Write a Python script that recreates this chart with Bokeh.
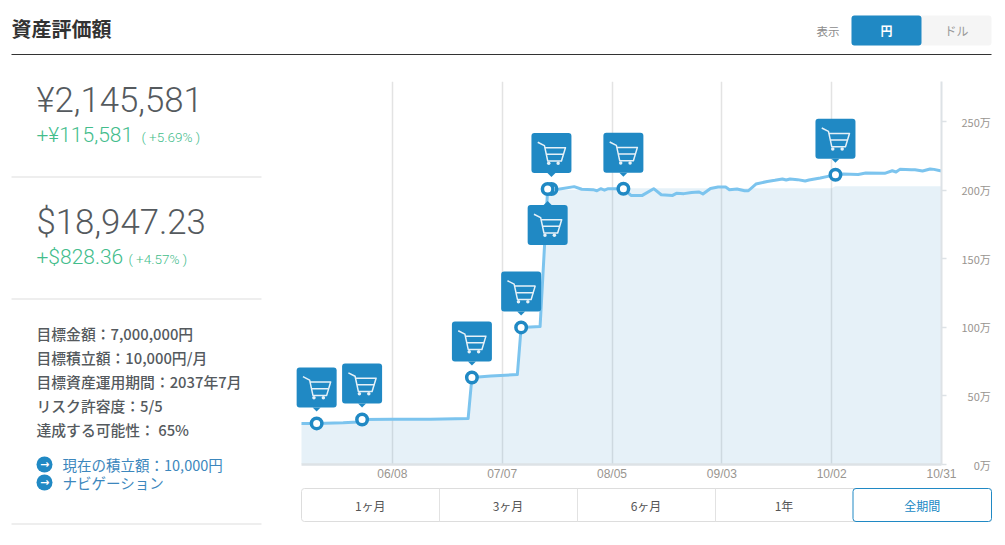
from datetime import datetime, timezone
from bokeh.plotting import figure
from bokeh.layouts import column, row
from bokeh.core.properties import value
from bokeh.models import LinearAxis, FixedTicker, Range1d
from bokeh.embed import file_html
from bokeh.resources import INLINE

YEAR = 2017
dates = ["05/15","05/19","05/26","05/30","05/31","06/08","06/18","06/28","06/29","07/04","07/11","07/12","07/17",
         "07/19","07/20","07/21","07/26","07/28","07/31","08/01","08/02","08/03","08/04","08/08","08/10","08/13",
         "08/16","08/18","08/21","08/22","08/24","08/26","08/28","08/29","08/31","09/02","09/04","09/05","09/07",
         "09/09","09/10","09/12","09/15","09/17","09/19","09/20","09/21","09/23","09/25","09/26","09/29","10/01",
         "10/03","10/05","10/09","10/11","10/16","10/18","10/19","10/20","10/23","10/24","10/26","10/28","10/29","10/31"]
values = [29.9,30.0,30.4,31.0,32.8,33.0,33.0,33.5,63.5,64.5,65.6,100.0,100.6,
          201.0,201.0,200.5,202.7,200.8,200.5,199.7,201.2,200.1,201.2,201.2,196.3,196.3,
          201.2,196.8,196.3,197.8,197.6,198.5,198.8,197.3,201.4,202.4,202.4,200.5,201.0,
          199.7,199.7,204.6,206.5,207.3,208.3,207.5,208.3,207.8,206.8,207.5,209.0,210.2,
          211.4,211.9,211.6,212.6,212.4,214.3,213.4,215.3,215.0,215.0,214.1,215.6,215.3,214.1]
area_dates = ["05/15","05/19","05/26","05/30","05/31","06/08","06/18","06/28","06/29","07/04","07/11","07/12","07/17",
              "07/19","07/20","08/07","08/08","10/02","10/03","10/31"]
area_values = [29.9,30.0,30.4,31.0,32.8,33.0,33.0,33.5,63.5,64.5,65.6,100.0,100.6,
               200.0,200.5,200.5,201.5,201.5,203.0,203.0]
buy_dates = ["05/19","05/31","06/29","07/12","07/20","07/19","08/08","10/03"]
buy_flag_below = [False,False,False,False,False,True,False,False]
x_tick_labels = ["06/08","07/07","08/05","09/03","10/02","10/31"]
y_ticks = [0,50,100,150,200,250]
range_buttons = ["1ヶ月","3ヶ月","6ヶ月","1年","全期間"]
title = "資産評価額"
jpy_total, jpy_gain, jpy_pct = "¥2,145,581", "+¥115,581", "( +5.69% )"
usd_total, usd_gain, usd_pct = "$18,947.23", "+$828.36", "( +4.57% )"
goals = ["目標金額：7,000,000円","目標積立額：10,000円/月","目標資産運用期間：2037年7月","リスク許容度：5/5","達成する可能性： 65%"]
links = ["現在の積立額：10,000円","ナビゲーション"]

BLUE = "#2089c4"; LINE = "#7cc4ee"; GREEN = "#43bd8c"; DARK = "#555a5e"; RULE = "#dedede"
JP = "Noto Sans CJK JP"; JPM = "'Noto Sans CJK JP Medium', 'Noto Sans CJK JP'"
LAT = "Liberation Sans"; THIN = "'Roboto Light', 'Liberation Sans'"

def ms(s):
    m, d = s.split("/")
    return int(datetime(YEAR, int(m), int(d), tzinfo=timezone.utc).timestamp() * 1000)

# ---------- the chart ----------
FRAME_W, FRAME_H = 650, 383
px_x = (ms("10/31") - ms("05/15")) / 640
y_max = 279.4
px_y = y_max / FRAME_H
x_start = ms("10/31") - FRAME_W * px_x

p = figure(width=713, height=431, output_backend="svg", toolbar_location=None,
           x_range=Range1d(x_start, ms("10/31")), y_range=Range1d(0, y_max),
           x_axis_location=None, y_axis_location=None, frame_align=False,
           min_border_left=0, min_border_right=63, min_border_top=26, min_border_bottom=22)
p.outline_line_color = None

xs = [ms(d) for d in dates]
ax = [ms(d) for d in area_dates]
lookup = dict(zip(dates, values))
bx = [ms(d) for d in buy_dates]
by = [lookup[d] for d in buy_dates]

xticks = [ms(t) for t in x_tick_labels]
xaxis = LinearAxis(ticker=FixedTicker(ticks=xticks), major_label_overrides=dict(zip(xticks, x_tick_labels)),
                   bounds=(ms("05/15"), ms("10/31")), axis_line_color="#dde2e6", axis_line_width=2.5,
                   major_tick_line_color=None, minor_tick_line_color=None, major_tick_out=0, major_tick_in=0,
                   major_label_standoff=2, major_label_text_color="#999590", major_label_text_font_size="12px",
                   major_label_text_font=LAT)
p.add_layout(xaxis, "below")
pad = {v: "\u2007" * (3 - len(str(v))) + f"{v}万" for v in y_ticks}
yaxis = LinearAxis(ticker=FixedTicker(ticks=y_ticks), major_label_overrides=pad,
                   axis_line_color="#dde2e6", axis_line_width=2, major_tick_line_color="#dde2e6",
                   major_tick_line_width=1.5, minor_tick_line_color=None, major_tick_out=5, major_tick_in=0,
                   major_label_standoff=15, major_label_text_color="#999590",
                   major_label_text_font_size="11px", major_label_text_font=JP)
p.add_layout(yaxis, "right")
p.xgrid.ticker = FixedTicker(ticks=xticks)
p.xgrid.grid_line_color = "#e3e3e3"
p.xgrid.grid_line_width = 1.5
p.ygrid.grid_line_color = None

p.varea(x=ax, y1=[0]*len(ax), y2=area_values, fill_color="#56a1cd", fill_alpha=0.15)
p.line(xs, values, line_color=LINE, line_width=3, line_join="round")

CART_LINES = [[(-13.7,10.7),(-7,7.3),(-3.7,-8),(10,-8),(14,5.3),(-6.3,5.3)], [(-5,-1.3),(12.3,-1.3)]]
CART_WHEELS = [(-2.7,-10.3),(6.7,-10.3)]
for x, y, below in zip(bx, by, buy_flag_below):
    if below:
        cy = y - 36 * px_y; b0, t0 = y - 12 * px_y, y - 16 * px_y
    else:
        cy = y + 36 * px_y; b0, t0 = y + 12 * px_y, y + 16 * px_y
    p.quad(left=[x-20*px_x], right=[x+20*px_x], bottom=[cy-20*px_y], top=[cy+20*px_y],
           fill_color=BLUE, line_color=None, border_radius=3)
    p.patch([x-4*px_x, x+4*px_x, x], [t0, t0, b0], fill_color=BLUE, line_color=None)
    for seg in CART_LINES:
        p.line([x+a*px_x for a,_ in seg], [cy+b*px_y for _,b in seg], line_color="#e6f1f8", line_width=1.5, line_join="round")
    p.scatter([x+a*px_x for a,_ in CART_WHEELS], [cy+b*px_y for _,b in CART_WHEELS], size=3.5,
              fill_color="#e6f1f8", line_color=None)
for x, y in zip(bx, by):
    p.scatter([x], [y], size=10.5, fill_color="white", line_color=BLUE, line_width=3.5)

# ---------- page furniture: panels whose ranges run in page pixels ----------
def panel(x0, y0, w, h):
    f = figure(width=w, height=h, output_backend="svg", toolbar_location=None,
               x_range=Range1d(x0, x0+w), y_range=Range1d(y0+h, y0),
               x_axis_location=None, y_axis_location=None, frame_align=False,
               min_border_left=0, min_border_right=0, min_border_top=0, min_border_bottom=0)
    f.outline_line_color = None
    f.grid.visible = False
    return f

def txt(f, x, y, s, size, color, font=JP, align="left", style="normal"):
    f.text(x=[x], y=[y], text=[s], text_font=value(font), text_font_size=f"{size}px", text_color=color,
           text_align=align, text_baseline="middle", text_font_style=style)

def box(f, l, t, r, b, fill, line=None, radius=0, width=1):
    f.quad(left=[l], right=[r], top=[t], bottom=[b], fill_color=fill, line_color=line, line_width=width, border_radius=radius)

head = panel(1, 1, 1004, 55)
txt(head, 12, 29, title, 20, "#333333", style="bold")
box(head, 12, 54.5, 992, 55.7, "#333333")
txt(head, 817, 31, "表示", 11.5, "#8c8c8c")
box(head, 852, 16, 992, 46, "#f5f5f5", radius=3)
box(head, 852, 16, 922, 46, BLUE, radius=3)
txt(head, 887, 31, "円", 12, "white", align="center", style="bold")
txt(head, 957, 31, "ドル", 12, "#9a9a9a", align="center")

left = panel(1, 56, 291, 488)
txt(left, 37, 100, jpy_total, 34.8, DARK, font=THIN)
txt(left, 37, 135, jpy_gain, 21, GREEN, font=THIN)
txt(left, 142, 137, jpy_pct, 13.5, GREEN, font=THIN)
box(left, 12, 177, 262, 178, RULE)
txt(left, 37, 222, usd_total, 34.8, DARK, font=THIN)
txt(left, 37, 257, usd_gain, 21, GREEN, font=THIN)
txt(left, 129, 259, usd_pct, 13.5, GREEN, font=THIN)
box(left, 12, 299, 262, 300, RULE)
for yy, s in zip([334, 358, 382, 406, 430], goals):
    txt(left, 37, yy, s, 14.8, DARK, font=JPM)
for yy, s in zip([465, 483], links):
    left.scatter([45], [yy], size=16, fill_color=BLUE, line_color=None)
    txt(left, 45, yy, "→", 11, "white", font="DejaVu Sans", align="center", style="bold")
    txt(left, 63, yy, s, 14.5, "#3c87bd")
box(left, 12, 524, 262, 525, RULE)

btn = panel(292, 487, 713, 57)
edges = [302, 439.5, 577.5, 715.5, 853.5, 992]
box(btn, 302, 489, 992, 522, "white", line="#dddddd", radius=3)
for e in edges[1:-1]:
    box(btn, e, 489, e+1, 522, "#e2e2e2")
box(btn, 853.5, 489, 992, 522, "white", line=BLUE, radius=3)
for i, s in enumerate(range_buttons):
    txt(btn, (edges[i]+edges[i+1])/2, 505.5, s, 12, BLUE if i == 4 else "#555555", align="center")

page = column(head, row(left, column(p, btn, spacing=0), spacing=0), spacing=0)
open("out.html", "w").write(file_html(page, INLINE))
